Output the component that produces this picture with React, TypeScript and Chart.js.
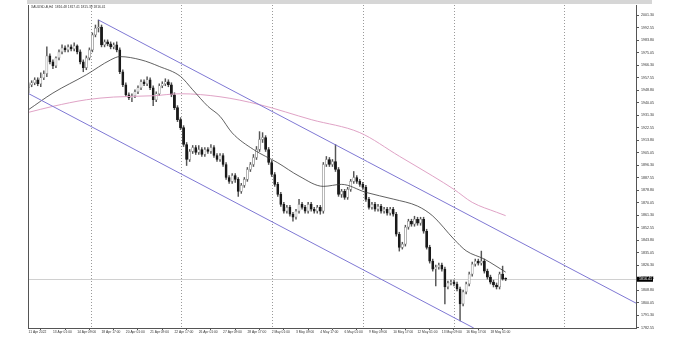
import React, { useEffect, useRef } from 'react';
import { Chart, registerables } from 'chart.js';
Chart.register(...registerables);

const symbolTitle = 'XAUUSD-B,H4  1816.48 1817.41 1815.39 1816.41';

const opens = [1950.4,1952.5,1953.9,1956.0,1953.2,1957.4,1960.2,1972.7,1968.5,1965.7,1971.3,1975.5,1978.3,1976.9,1979.0,1977.6,1979.7,1975.5,1968.5,1964.4,1971.3,1976.9,1987.4,1992.2,1992.9,1980.4,1982.5,1981.1,1979.0,1980.4,1976.9,1961.6,1952.5,1945.5,1943.4,1944.8,1947.6,1950.4,1954.6,1953.2,1956.0,1950.4,1942.0,1946.2,1951.8,1953.2,1954.6,1952.5,1945.5,1936.5,1928.1,1922.5,1910.7,1900.2,1905.8,1908.6,1905.1,1907.2,1903.7,1907.2,1905.8,1908.6,1903.0,1900.2,1903.0,1896.7,1887.6,1884.9,1889.0,1886.3,1877.9,1882.1,1886.3,1893.2,1896.7,1901.6,1907.2,1914.2,1915.6,1907.2,1898.1,1889.7,1882.8,1875.8,1868.8,1864.0,1866.7,1861.9,1859.8,1864.0,1868.8,1866.7,1864.0,1868.8,1865.4,1864.0,1866.7,1864.0,1896.7,1900.2,1896.7,1898.8,1893.2,1875.8,1877.9,1873.7,1879.3,1884.9,1887.6,1884.9,1882.8,1880.7,1872.3,1866.7,1868.8,1865.4,1867.4,1864.0,1865.4,1862.6,1865.4,1861.9,1847.9,1838.7,1841.0,1852.8,1857.0,1854.9,1858.4,1855.6,1858.4,1850.0,1838.7,1829.1,1823.5,1824.9,1826.3,1823.5,1811.0,1813.8,1814.4,1813.1,1809.6,1799.1,1807.5,1813.1,1820.0,1827.0,1829.1,1827.7,1829.1,1822.1,1817.9,1814.4,1812.4,1811.0,1820.0,1816.48];
const highs = [1953.9,1955.3,1957.4,1957.4,1960.9,1962.3,1979.0,1974.1,1969.9,1972.0,1976.9,1980.4,1979.7,1980.4,1980.4,1981.8,1980.4,1976.9,1969.9,1972.7,1978.3,1988.8,1994.3,1997.8,1994.3,1983.9,1983.9,1982.5,1981.8,1982.5,1978.3,1963.0,1953.9,1946.9,1946.2,1949.0,1951.8,1956.0,1956.0,1958.1,1957.4,1951.8,1947.6,1953.2,1954.6,1956.7,1956.0,1953.9,1946.9,1937.9,1929.5,1923.9,1912.1,1907.2,1910.0,1910.0,1910.0,1908.6,1908.6,1908.6,1910.7,1910.0,1904.4,1904.4,1904.4,1898.1,1889.0,1890.4,1890.4,1887.6,1883.5,1887.6,1894.6,1898.1,1903.7,1909.3,1919.7,1919.0,1916.9,1908.6,1899.5,1891.1,1884.2,1877.2,1870.2,1868.1,1868.1,1863.3,1865.4,1872.3,1870.2,1868.1,1870.2,1870.2,1866.7,1868.1,1868.1,1898.1,1902.3,1901.6,1900.2,1910.7,1894.6,1879.3,1879.3,1880.7,1886.3,1891.8,1889.0,1886.3,1884.2,1882.1,1873.7,1870.2,1870.2,1868.8,1868.8,1866.7,1866.7,1866.7,1866.7,1863.3,1849.3,1842.3,1854.2,1858.4,1858.4,1860.5,1859.8,1859.8,1859.8,1851.4,1840.2,1830.5,1826.3,1827.7,1827.7,1824.9,1815.2,1815.8,1815.8,1814.4,1811.0,1808.9,1814.4,1821.4,1828.4,1830.5,1830.5,1836.1,1830.5,1823.5,1819.3,1815.8,1813.8,1821.4,1825.6,1817.41];
const lows = [1946.9,1951.1,1952.5,1951.8,1951.1,1956.0,1958.1,1967.1,1963.7,1964.4,1969.9,1974.1,1975.5,1975.5,1976.2,1976.2,1974.1,1967.1,1961.6,1963.0,1969.9,1975.5,1986.0,1989.4,1979.0,1979.0,1979.7,1977.6,1977.6,1975.5,1960.2,1951.1,1944.1,1942.0,1940.6,1943.4,1946.2,1949.0,1951.8,1951.8,1949.0,1937.9,1940.6,1944.8,1950.4,1951.8,1951.1,1944.1,1935.1,1926.7,1921.1,1909.3,1896.0,1898.8,1904.4,1903.7,1903.7,1902.3,1902.3,1904.4,1904.4,1901.6,1898.8,1898.8,1895.3,1886.3,1883.5,1883.5,1884.2,1874.4,1876.5,1880.7,1884.9,1891.8,1895.3,1900.2,1905.8,1912.1,1905.8,1896.7,1888.3,1881.4,1874.4,1867.4,1862.6,1862.6,1860.5,1857.0,1858.4,1862.6,1865.4,1862.6,1862.6,1864.0,1862.6,1862.6,1861.9,1862.6,1895.3,1895.3,1895.3,1891.8,1874.4,1873.7,1872.3,1872.3,1877.9,1883.5,1883.5,1881.4,1879.3,1870.9,1865.4,1865.4,1864.0,1864.0,1862.6,1862.6,1861.2,1861.2,1860.5,1846.5,1836.1,1837.5,1839.6,1851.4,1853.5,1853.5,1854.2,1854.2,1848.6,1837.5,1827.7,1822.1,1811.7,1823.5,1822.1,1799.1,1809.6,1812.4,1811.7,1808.2,1787.3,1797.7,1806.1,1811.7,1818.6,1825.6,1826.3,1826.3,1820.7,1816.5,1813.1,1811.0,1809.6,1809.6,1815.8,1815.39];
const closes = [1952.5,1953.9,1956.0,1953.2,1957.4,1960.2,1972.7,1968.5,1965.7,1971.3,1975.5,1978.3,1976.9,1979.0,1977.6,1979.7,1975.5,1968.5,1964.4,1971.3,1976.9,1987.4,1992.2,1992.9,1980.4,1982.5,1981.1,1979.0,1980.4,1976.9,1961.6,1952.5,1945.5,1943.4,1944.8,1947.6,1950.4,1954.6,1953.2,1956.0,1950.4,1942.0,1946.2,1951.8,1953.2,1954.6,1952.5,1945.5,1936.5,1928.1,1922.5,1910.7,1900.2,1905.8,1908.6,1905.1,1907.2,1903.7,1907.2,1905.8,1908.6,1903.0,1900.2,1903.0,1896.7,1887.6,1884.9,1889.0,1886.3,1877.9,1882.1,1886.3,1893.2,1896.7,1901.6,1907.2,1914.2,1915.6,1907.2,1898.1,1889.7,1882.8,1875.8,1868.8,1864.0,1866.7,1861.9,1859.8,1864.0,1868.8,1866.7,1864.0,1868.8,1865.4,1864.0,1866.7,1864.0,1896.7,1900.2,1896.7,1898.8,1893.2,1875.8,1877.9,1873.7,1879.3,1884.9,1887.6,1884.9,1882.8,1880.7,1872.3,1866.7,1868.8,1865.4,1867.4,1864.0,1865.4,1862.6,1865.4,1861.9,1847.9,1838.7,1841.0,1852.8,1857.0,1854.9,1858.4,1855.6,1858.4,1850.0,1838.7,1829.1,1823.5,1824.9,1826.3,1823.5,1811.0,1813.8,1814.4,1813.1,1809.6,1799.1,1807.5,1813.1,1820.0,1827.0,1829.1,1827.7,1829.1,1822.1,1817.9,1814.4,1812.4,1811.0,1820.0,1816.5,1816.41];

const xTickBars = [0, 8, 16, 24, 32, 40, 48, 56, 64, 72, 80, 88, 96, 104, 112, 120, 128, 136, 144, 152];
const xTickLabels = ['11 Apr 2022', '13 Apr 01:00', '14 Apr 09:00', '18 Apr 17:00', '20 Apr 01:00', '21 Apr 09:00', '22 Apr 17:00', '26 Apr 01:00', '27 Apr 09:00', '28 Apr 17:00', '2 May 01:00', '3 May 09:00', '4 May 17:00', '6 May 01:00', '9 May 09:00', '10 May 17:00', '12 May 01:00', '13 May 09:00', '16 May 17:00', '18 May 01:00'];
const yTickValues = [2001.30, 1992.55, 1983.80, 1975.05, 1966.30, 1957.55, 1948.80, 1940.05, 1931.30, 1922.55, 1913.80, 1905.05, 1896.30, 1887.55, 1878.80, 1870.05, 1861.30, 1852.55, 1843.80, 1835.05, 1826.30, 1817.55, 1808.80, 1800.05, 1791.30, 1782.55];
const gridBars = [20.6, 50.3, 80.1, 110.0, 140.0, 176.2];

const maFastBars = [0, 8, 19, 27, 30, 37, 43, 50, 54, 59, 63, 67, 74, 82, 89, 97, 103, 111, 120, 128, 133, 140, 144, 150, 157];
const maFastValues = [1935.1, 1946.7, 1959.5, 1969.9, 1972.2, 1969.9, 1965.3, 1958.3, 1949.0, 1937.4, 1930.4, 1918.8, 1907.2, 1897.9, 1888.6, 1881.4, 1882.8, 1877.2, 1872.5, 1867.6, 1860.7, 1844.4, 1836.3, 1830.5, 1821.4];
const maSlowBars = [0, 8, 19, 28, 41, 50, 63, 76, 93, 109, 122, 133, 140, 146, 154, 157];
const maSlowValues = [1933.2, 1937.4, 1942.0, 1943.9, 1944.8, 1946.2, 1944.1, 1938.6, 1928.1, 1919.0, 1902.5, 1888.6, 1879.3, 1870.2, 1863.3, 1860.9];

const channelUpperBars = [23, 200];
const channelUpperValues = [1997.8, 1799.6];
const channelLowerBars = [0, 146.5];
const channelLowerValues = [1946.3, 1782.3];

const lastPrice = 1816.41;
const FONT = 'Liberation Sans';

const decorPlugin = {
  id: 'decor',
  beforeDraw(chart: any) {
    const ctx = chart.ctx;
    ctx.save();
    ctx.fillStyle = '#ffffff';
    ctx.fillRect(0, 0, chart.width, chart.height);
    ctx.fillStyle = '#d6d6d6';
    ctx.fillRect(27, 0, 625, 4);
    ctx.restore();
  },
  beforeDatasetsDraw(chart: any) {
    const ctx = chart.ctx;
    const { top, bottom, left, right } = chart.chartArea;
    const xs = chart.scales.x;
    const ys = chart.scales.y;
    ctx.save();
    ctx.strokeStyle = '#9a9a9a';
    ctx.lineWidth = 1;
    ctx.setLineDash([1, 2]);
    gridBars.forEach((b) => {
      const px = Math.round(xs.getPixelForValue(b)) + 0.5;
      ctx.beginPath();
      ctx.moveTo(px, top);
      ctx.lineTo(px, bottom);
      ctx.stroke();
    });
    ctx.setLineDash([]);
    ctx.strokeStyle = '#d0d0d0';
    const py = Math.round(ys.getPixelForValue(lastPrice)) + 0.5;
    ctx.beginPath();
    ctx.moveTo(left, py);
    ctx.lineTo(right, py);
    ctx.stroke();
    ctx.restore();
  },
  afterDraw(chart: any) {
    const ctx = chart.ctx;
    const { top, bottom, left, right } = chart.chartArea;
    const ys = chart.scales.y;
    ctx.save();
    ctx.strokeStyle = '#555';
    ctx.lineWidth = 1;
    ctx.beginPath();
    ctx.moveTo(left + 0.5, top);
    ctx.lineTo(left + 0.5, bottom);
    ctx.stroke();
    const py = ys.getPixelForValue(lastPrice);
    ctx.fillStyle = '#000';
    ctx.fillRect(right + 1, py - 2.5, 16, 5);
    ctx.fillStyle = '#fff';
    ctx.font = `3.6px "${FONT}"`;
    ctx.textBaseline = 'middle';
    ctx.textAlign = 'left';
    ctx.fillText(lastPrice.toFixed(2), right + 3, py);
    ctx.fillStyle = '#333';
    ctx.font = `3.3px "${FONT}"`;
    ctx.fillText(symbolTitle, left + 3, top + 2.5);
    ctx.restore();
  },
};

export default function App() {
  const ref = useRef<HTMLCanvasElement | null>(null);
  useEffect(() => {
    if (!ref.current) return;
    const wicks = highs.map((h, i) => ({ x: i, y: [lows[i], h] }));
    const bodies = opens.map((o, i) => ({ x: i, y: [o, closes[i]] }));
    const bull = opens.map((o, i) => closes[i] >= o);
    const chart = new Chart(ref.current, {
      type: 'bar',
      data: {
        datasets: [
          {
            type: 'line',
            data: channelUpperBars.map((b, i) => ({ x: b, y: channelUpperValues[i] })),
            borderColor: '#7f78d4',
            borderWidth: 1,
            pointRadius: 0,
            tension: 0,
            order: 1,
          } as any,
          {
            type: 'line',
            data: channelLowerBars.map((b, i) => ({ x: b, y: channelLowerValues[i] })),
            borderColor: '#7f78d4',
            borderWidth: 1,
            pointRadius: 0,
            tension: 0,
            order: 1,
          } as any,
          {
            type: 'line',
            data: maFastBars.map((b, i) => ({ x: b, y: maFastValues[i] })),
            borderColor: '#3a3a3a',
            borderWidth: 0.8,
            pointRadius: 0,
            cubicInterpolationMode: 'monotone',
            order: 2,
          } as any,
          {
            type: 'line',
            data: maSlowBars.map((b, i) => ({ x: b, y: maSlowValues[i] })),
            borderColor: '#e0a3c6',
            borderWidth: 1,
            pointRadius: 0,
            cubicInterpolationMode: 'monotone',
            order: 3,
          } as any,
          {
            type: 'bar',
            data: bodies,
            backgroundColor: bull.map((b) => (b ? '#ffffff' : '#1a1a1a')),
            borderColor: bull.map((b) => (b ? '#8a8a8a' : '#1a1a1a')),
            borderWidth: 0.7,
            borderSkipped: false,
            barThickness: 2.2,
            minBarLength: 1,
            grouped: false,
            order: 4,
          } as any,
          {
            type: 'bar',
            data: wicks,
            backgroundColor: '#555555',
            barThickness: 0.8,
            grouped: false,
            order: 5,
          } as any,
        ],
      },
      options: {
        animation: false,
        responsive: false,
        devicePixelRatio: 1,
        layout: { padding: { left: 28, top: 5, right: 0, bottom: 0 } },
        plugins: { legend: { display: false }, tooltip: { enabled: false } },
        scales: {
          x: {
            type: 'linear',
            min: -0.2,
            max: 199.9,
            offset: false,
            position: 'bottom',
            afterBuildTicks: (s: any) => {
              s.ticks = xTickBars.map((v) => ({ value: v }));
            },
            afterFit: (s: any) => {
              s.height = 12;
            },
            ticks: {
              autoSkip: false,
              maxRotation: 0,
              minRotation: 0,
              align: 'start',
              padding: 0,
              color: '#333',
              font: { size: 3.3, family: FONT },
              callback: (v: any) => {
                const k = xTickBars.indexOf(Number(v));
                return k >= 0 ? xTickLabels[k] : '';
              },
            },
            grid: { drawOnChartArea: false, tickLength: 2, color: '#555' },
            border: { display: true, color: '#555', width: 1 },
          },
          y: {
            type: 'linear',
            position: 'right',
            min: 1782.3,
            max: 2008.3,
            afterBuildTicks: (s: any) => {
              s.ticks = yTickValues.map((v) => ({ value: v }));
            },
            afterFit: (s: any) => {
              s.width = 44;
            },
            ticks: {
              autoSkip: false,
              padding: 2,
              crossAlign: 'near',
              color: '#333',
              font: { size: 3.6, family: FONT },
              callback: (v: any) => Number(v).toFixed(2),
            },
            grid: { drawOnChartArea: false, tickLength: 3, color: '#555' },
            border: { display: true, color: '#555', width: 1 },
          },
        },
      } as any,
      plugins: [decorPlugin],
    });
    return () => chart.destroy();
  }, []);
  return (
    <div style={{ position: 'fixed', left: 0, top: 0, width: 680, height: 340, background: '#fff' }}>
      <canvas ref={ref} width={680} height={340} style={{ display: 'block' }} />
    </div>
  );
}
